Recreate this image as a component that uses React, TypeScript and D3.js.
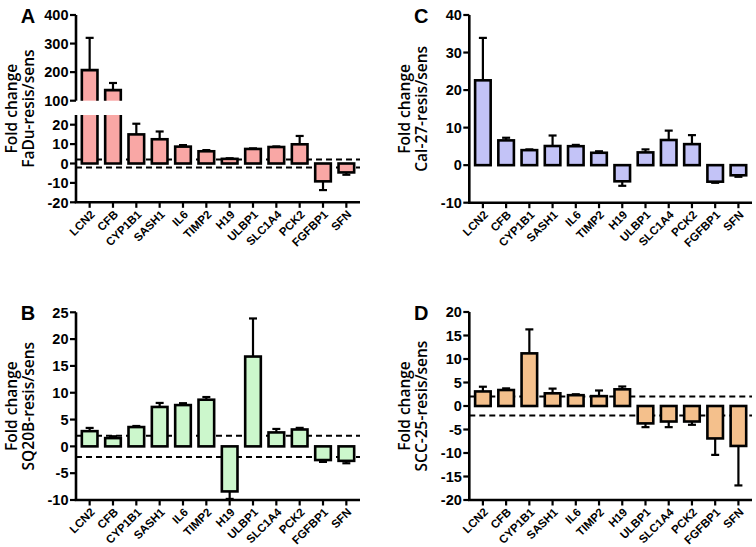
import React from "react";
import * as d3 from "d3";

const genes = ["LCN2", "CFB", "CYP1B1", "SASH1", "IL6", "TIMP2", "H19", "ULBP1", "SLC1A4", "PCK2", "FGFBP1", "SFN"];

const faduMean = [207, 137, 15, 12.5, 8.7, 6.3, 2.4, 7.5, 8.5, 9.9, -9.2, -4.6];
const faduErr = [113, 25, 5.5, 4, 0.8, 0.6, 0.3, 0.3, 0.3, 4.3, 4.5, 1.2];

const sq20bMean = [2.84, 1.54, 3.6, 7.35, 7.7, 8.7, -8.4, 16.75, 2.6, 3.15, -2.55, -2.7];
const sq20bErr = [0.6, 0.35, 0.2, 0.75, 0.35, 0.5, 1.4, 7.1, 0.65, 0.3, 0.35, 0.45];

const cal27Mean = [22.6, 6.6, 4.0, 5.1, 5.05, 3.3, -4.3, 3.4, 6.7, 5.6, -4.4, -2.7];
const cal27Err = [11.3, 0.7, 0.2, 2.8, 0.35, 0.4, 1.2, 0.8, 2.5, 2.4, 0.3, 0.4];

const scc25Mean = [3.1, 3.4, 11.2, 2.7, 2.3, 2.1, 3.55, -3.7, -3.3, -3.3, -6.9, -8.5];
const scc25Err = [1.0, 0.35, 5.1, 1.0, 0.2, 1.2, 0.6, 0.8, 1.2, 0.7, 3.5, 8.4];

const faduLowTicks = [-20, -10, 0, 10, 20];
const faduHighTicks = [100, 200, 300, 400];
const sq20bTicks = [-10, -5, 0, 5, 10, 15, 20, 25];
const cal27Ticks = [-10, 0, 10, 20, 30, 40];
const scc25Ticks = [-20, -15, -10, -5, 0, 5, 10, 15, 20];

const threshold = 2;

const TICK_FONT = "'Liberation Sans', Arial, sans-serif";
const TITLE_FONT = "'Open Sans', 'Liberation Sans', sans-serif";

type PanelProps = {
  letter: string;
  title: string;
  axisX: number;
  rightX: number;
  fill: string;
  mean: number[];
  err: number[];
  domain: [number, number];
  range: [number, number];
  ticks: number[];
  dashed: boolean;
  brk?: { lowTop: number; highDomain: [number, number]; highRange: [number, number]; highTicks: number[] };
};

function Panel(p: PanelProps) {
  const x = d3.scaleBand<string>().domain(genes).range([p.axisX, p.rightX]).paddingInner(0.33).paddingOuter(0.25);
  const y = d3.scaleLinear().domain(p.domain).range(p.range);
  const yHigh = p.brk ? d3.scaleLinear().domain(p.brk.highDomain).range(p.brk.highRange) : null;
  const axisY = p.range[0];
  const topY = p.brk ? p.brk.highRange[1] : p.range[1];
  const lowTopY = p.range[1];
  const bw = x.bandwidth();
  const cap = 4;
  const midY = (topY + axisY) / 2;
  const sw = 2.6;
  const els: React.ReactNode[] = [];

  genes.forEach((g, i) => {
    const x0 = x(g)!;
    const cx = x0 + bw / 2;
    const v = p.mean[i];
    const e = p.err[i];
    const end = v >= 0 ? v + e : v - e;
    if (p.brk && yHigh && v > p.brk.lowTop) {
      const y0 = y(0);
      const yb = y(p.brk.lowTop);
      const yt = yHigh(v);
      const yHb = yHigh(p.brk.highDomain[0]);
      const ye = yHigh(end);
      els.push(
        <g key={g}>
          <rect x={x0} y={yb} width={bw} height={y0 - yb} fill={p.fill} />
          <path d={`M${x0},${yb}V${y0}H${x0 + bw}V${yb}`} fill="none" stroke="#000" strokeWidth={sw} />
          <line x1={cx} x2={cx} y1={yt} y2={ye} stroke="#000" strokeWidth={2.2} />
          <line x1={cx - cap} x2={cx + cap} y1={ye} y2={ye} stroke="#000" strokeWidth={2.2} />
          <rect x={x0} y={yt} width={bw} height={yHb - yt} fill={p.fill} />
          <path d={`M${x0},${yHb}V${yt}H${x0 + bw}V${yHb}`} fill="none" stroke="#000" strokeWidth={sw} />
        </g>
      );
    } else {
      const y0 = y(0);
      const yv = y(v);
      const ye = y(end);
      els.push(
        <g key={g}>
          <line x1={cx} x2={cx} y1={yv} y2={ye} stroke="#000" strokeWidth={2.2} />
          <line x1={cx - cap} x2={cx + cap} y1={ye} y2={ye} stroke="#000" strokeWidth={2.2} />
          <rect x={x0} y={Math.min(y0, yv)} width={bw} height={Math.abs(yv - y0)} fill={p.fill} stroke="#000" strokeWidth={sw} />
        </g>
      );
    }
  });

  const axisLines: React.ReactNode[] = [];
  if (p.brk && yHigh) {
    axisLines.push(<line key="ah" x1={p.axisX} x2={p.axisX} y1={yHigh.range()[1]} y2={yHigh.range()[0]} stroke="#000" strokeWidth={2.6} />);
    axisLines.push(<line key="al" x1={p.axisX} x2={p.axisX} y1={lowTopY} y2={axisY} stroke="#000" strokeWidth={2.6} />);
  } else {
    axisLines.push(<line key="a" x1={p.axisX} x2={p.axisX} y1={topY} y2={axisY} stroke="#000" strokeWidth={2.6} />);
  }

  const tickEls: React.ReactNode[] = [];
  const addTick = (val: number, yy: number, key: string) => {
    tickEls.push(
      <g key={key}>
        <line x1={p.axisX - 6} x2={p.axisX} y1={yy} y2={yy} stroke="#000" strokeWidth={2.2} />
        <text x={p.axisX - 7.5} y={yy} dy="0.36em" textAnchor="end" fontFamily={TICK_FONT} fontWeight="bold" fontSize={14.5}>{val}</text>
      </g>
    );
  };
  p.ticks.forEach((t) => addTick(t, y(t), "t" + t));
  if (p.brk && yHigh) p.brk.highTicks.forEach((t) => addTick(t, yHigh(t), "h" + t));

  return (
    <g>
      {p.dashed && (
        <g>
          <line x1={p.axisX} x2={p.rightX} y1={y(threshold)} y2={y(threshold)} stroke="#000" strokeWidth={2} strokeDasharray="6,4" />
          <line x1={p.axisX} x2={p.rightX} y1={y(-threshold)} y2={y(-threshold)} stroke="#000" strokeWidth={2} strokeDasharray="6,4" />
        </g>
      )}
      {els}
      {axisLines}
      <line x1={p.axisX - 1.3} x2={p.rightX} y1={axisY} y2={axisY} stroke="#000" strokeWidth={2.6} />
      {genes.map((g) => {
        const cx = x(g)! + bw / 2;
        return (
          <g key={"x" + g}>
            <line x1={cx} x2={cx} y1={axisY} y2={axisY + 5.5} stroke="#000" strokeWidth={2.2} />
            <text transform={`translate(${cx + 3},${axisY + 10}) rotate(-45)`} textAnchor="end" dy="0.35em" fontFamily={TICK_FONT} fontWeight="bold" fontSize={11.5}>{g}</text>
          </g>
        );
      })}
      {tickEls}
      <text transform={`translate(${p.axisX - 59.5},${midY}) rotate(-90)`} textAnchor="middle" fontFamily={TITLE_FONT} fontWeight={600} fontSize={15.5}>
        <tspan x={0} dy="0">Fold change</tspan>
        <tspan x={0} dy="1.12em">{p.title}</tspan>
      </text>
      <text x={p.axisX - 48} y={topY + 7.5} textAnchor="middle" fontFamily={TICK_FONT} fontWeight="bold" fontSize={20}>{p.letter}</text>
    </g>
  );
}

export default function App() {
  return (
    <svg width={756} height={547} style={{ position: "absolute", left: 0, top: 0, background: "#fff" }}>
      <rect width={756} height={547} fill="#fff" />
      <Panel letter="A" title="FaDu-resis/sens" axisX={76} rightX={360} fill="#F9A7A5" mean={faduMean} err={faduErr}
        domain={[-20, 25]} range={[202.3, 115]} ticks={faduLowTicks} dashed={true}
        brk={{ lowTop: 25, highDomain: [100, 400], highRange: [100.7, 15], highTicks: faduHighTicks }} />
      <Panel letter="B" title="SQ20B-resis/sens" axisX={76} rightX={360} fill="#CCF7CC" mean={sq20bMean} err={sq20bErr}
        domain={[-10, 25]} range={[500, 312.3]} ticks={sq20bTicks} dashed={true} />
      <Panel letter="C" title="Cal-27-resis/sens" axisX={469.3} rightX={752} fill="#C3C3F7" mean={cal27Mean} err={cal27Err}
        domain={[-10, 40]} range={[202.7, 15]} ticks={cal27Ticks} dashed={false} />
      <Panel letter="D" title="SCC-25-resis/sens" axisX={469.3} rightX={752} fill="#F4C08C" mean={scc25Mean} err={scc25Err}
        domain={[-20, 20]} range={[500, 312]} ticks={scc25Ticks} dashed={true} />
    </svg>
  );
}
